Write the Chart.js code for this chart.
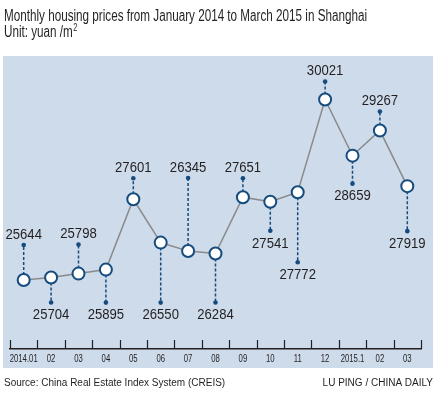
<!DOCTYPE html>
<html>
<head>
<meta charset="utf-8">
<script src="https://cdn.jsdelivr.net/npm/chart.js@4/dist/chart.umd.min.js"></script>
<style>
html, body { margin: 0; padding: 0; background: #fff; }
#wrap { width: 440px; height: 393px; }
</style>
</head>
<body>
<div id="wrap"><canvas id="housing"></canvas></div>
<script>
// months, Jan 2014 - Mar 2015
var months = ['2014.01', '02', '03', '04', '05', '06', '07', '08', '09', '10', '11', '12', '2015.1', '02', '03'];
// average price, yuan per square metre
var prices = [25644, 25704, 25798, 25895, 27601, 26550, 26345, 26284, 27651, 27541, 27772, 30021, 28659, 29267, 27919];

// leader line length in px for each value label (negative = label above point)
var leaderLen = [-35, 25, -29, 33, -21, 60, -73, 49, -19, 29, 70, -18, 28, -19, 45];

var PANEL = '#cddbeb';
var BLUE = '#154b7d';
var TEXT = '#231f20';
var NARROW = '"Liberation Sans", Arial, sans-serif';

// draw text squeezed horizontally (the original uses a condensed face)
function squeezed(ctx, text, x, y, sx) {
    ctx.save();
    ctx.translate(x, y);
    ctx.scale(sx, 1);
    ctx.fillText(text, 0, 0);
    ctx.restore();
}

function fitScale(ctx, text, width) {
    return width / ctx.measureText(text).width;
}

var decoPlugin = {
    id: 'deco',
    beforeDraw: function (chart) {
        var ctx = chart.ctx;
        ctx.save();
        ctx.fillStyle = '#fff';
        ctx.fillRect(0, 0, chart.width, chart.height);
        ctx.fillStyle = PANEL;
        ctx.fillRect(3, 56, 430, 312);

        ctx.fillStyle = TEXT;
        ctx.textBaseline = 'alphabetic';
        ctx.textAlign = 'left';
        ctx.font = '16px ' + NARROW;
        var title = 'Monthly housing prices from January 2014 to March 2015 in Shanghai';
        var sx = fitScale(ctx, title, 363);
        squeezed(ctx, title, 4, 21, sx);
        var unit = 'Unit: yuan /m';
        squeezed(ctx, unit, 4, 37, sx);
        var w = ctx.measureText(unit).width * sx;
        ctx.font = '10px ' + NARROW;
        squeezed(ctx, '2', 4 + w + 0.5, 31, sx);

        ctx.font = '10px "Liberation Sans", Arial, sans-serif';
        ctx.fillText('Source: China Real Estate Index System (CREIS)', 4, 386);
        ctx.textAlign = 'right';
        ctx.fillText('LU PING / CHINA DAILY', 433, 386);
        ctx.restore();
    },
    beforeDatasetsDraw: function (chart) {
        var ctx = chart.ctx;
        var meta = chart.getDatasetMeta(0);
        ctx.save();
        ctx.font = '15.5px ' + NARROW;
        var sx = fitScale(ctx, '25644', 36.5);
        meta.data.forEach(function (pt, i) {
            var len = leaderLen[i];
            var endY = pt.y + len;
            ctx.strokeStyle = BLUE;
            ctx.lineWidth = 1.5;
            ctx.setLineDash([3, 2]);
            ctx.beginPath();
            ctx.moveTo(pt.x, pt.y);
            ctx.lineTo(pt.x, endY);
            ctx.stroke();
            ctx.setLineDash([]);
            ctx.fillStyle = BLUE;
            ctx.beginPath();
            ctx.arc(pt.x, endY, 2.3, 0, Math.PI * 2);
            ctx.fill();

            ctx.fillStyle = TEXT;
            ctx.textAlign = 'center';
            ctx.textBaseline = 'middle';
            var ty = len < 0 ? endY - 10.5 : endY + 12.5;
            squeezed(ctx, String(prices[i]), pt.x, ty, sx);
        });
        ctx.restore();
    },
    afterDraw: function (chart) {
        var x = chart.scales.x;
        var ctx = chart.ctx;
        var step = x.getPixelForValue(1) - x.getPixelForValue(0);
        var start = x.getPixelForValue(0) - step / 2;
        var base = chart.chartArea.bottom;
        ctx.save();
        ctx.strokeStyle = TEXT;
        ctx.lineWidth = 1.2;
        for (var i = 0; i <= months.length; i++) {
            var px = Math.round(start + i * step) + 0.5;
            ctx.beginPath();
            ctx.moveTo(px, base);
            ctx.lineTo(px, base - 9);
            ctx.stroke();
        }
        // month labels, condensed
        ctx.fillStyle = TEXT;
        ctx.font = '11px ' + NARROW;
        ctx.textAlign = 'center';
        ctx.textBaseline = 'middle';
        var tsx = fitScale(ctx, '2014.01', 28);
        x.ticks.forEach(function (t, i) {
            squeezed(ctx, x.getLabelForValue(t.value), x.getPixelForTick(i), base + 9.5, tsx);
        });
        ctx.restore();
    }
};

var housingChart = new Chart(document.getElementById('housing'), {
    type: 'line',
    data: {
        labels: months,
        datasets: [{
            data: prices,
            borderColor: '#8a8a8a',
            borderWidth: 1.5,
            tension: 0,
            pointRadius: 6,
            pointBackgroundColor: '#fff',
            pointBorderColor: BLUE,
            pointBorderWidth: 2
        }]
    },
    options: {
        responsive: true,
        maintainAspectRatio: false,
        animation: false,
        layout: { padding: { left: 10, right: 19, top: 56, bottom: 24 } },
        plugins: {
            legend: { display: false },
            tooltip: { enabled: false }
        },
        scales: {
            y: { display: false, min: 23970, max: 31075 },
            x: {
                offset: true,
                grid: { display: false, drawTicks: false },
                border: { display: true, color: TEXT, width: 1.5 },
                ticks: {
                    autoSkip: false,
                    maxRotation: 0,
                    padding: 4,
                    color: 'rgba(0,0,0,0)',
                    font: { family: NARROW, size: 10 }
                }
            }
        }
    },
    plugins: [decoPlugin]
});
</script>
</body>
</html>
